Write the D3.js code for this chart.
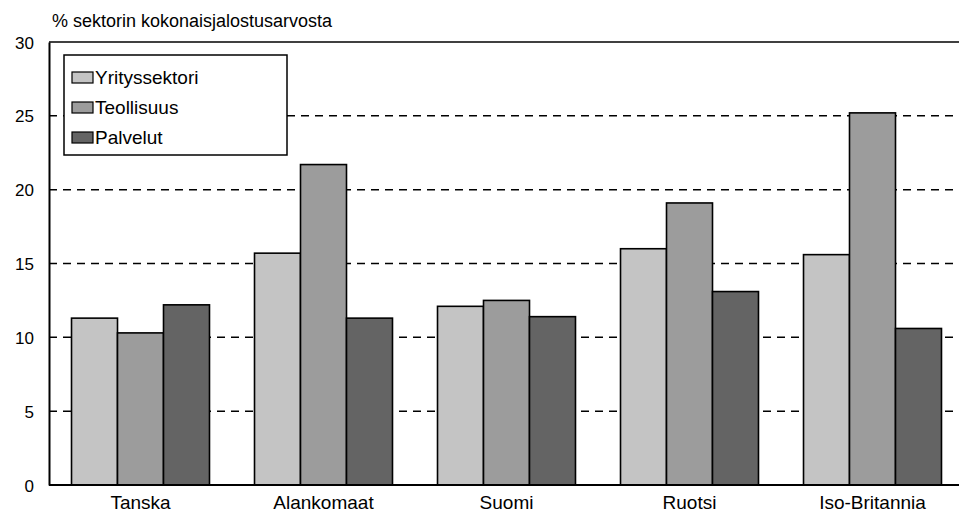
<!DOCTYPE html>
<html>
<head>
<meta charset="utf-8">
<script src="https://cdn.jsdelivr.net/npm/d3@7"></script>
<style>
  body { margin: 0; background: #fff; }
  text { font-family: "Liberation Sans", Arial, sans-serif; fill: #000; }
</style>
</head>
<body>
<div id="chart"></div>
<script>
// data
var countries = ["Tanska", "Alankomaat", "Suomi", "Ruotsi", "Iso-Britannia"];
var seriesNames = ["Yrityssektori", "Teollisuus", "Palvelut"];
var yritys   = [11.3, 15.7, 12.1, 16.0, 15.6];
var teoll    = [10.3, 21.7, 12.5, 19.1, 25.2];
var palvelut = [12.2, 11.3, 11.4, 13.1, 10.6];
var yTicks = [0, 5, 10, 15, 20, 25, 30];
var colors = ["#c4c4c4", "#9c9c9c", "#646464"];

var seriesValues = [yritys, teoll, palvelut];

var W = 959, H = 525;
var margin = {top: 42, right: -5, bottom: 40, left: 49};
var width = W - margin.left - margin.right,
    height = H - margin.top - margin.bottom;

var svg = d3.select("#chart").append("svg")
    .attr("width", W)
    .attr("height", H);

var g = svg.append("g")
    .attr("transform", "translate(" + margin.left + "," + margin.top + ")");

var x0 = d3.scaleBand().domain(countries).range([0, width]).paddingInner(0.246).paddingOuter(0.123);
var x1 = d3.scaleBand().domain(seriesNames).range([0, x0.bandwidth()]);
var y = d3.scaleLinear().domain([0, 30]).range([height, 0]);

// dashed gridlines
g.append("g")
  .selectAll("line")
  .data(yTicks.filter(function(d) { return d > 0 && d < 30; }))
  .enter().append("line")
    .attr("x1", 0)
    .attr("x2", W)
    .attr("y1", function(d) { return y(d); })
    .attr("y2", function(d) { return y(d); })
    .attr("stroke", "#000")
    .attr("stroke-width", 1.5)
    .attr("stroke-dasharray", "8,6");

// top border
g.append("line")
  .attr("x1", 0).attr("x2", W)
  .attr("y1", y(30)).attr("y2", y(30))
  .attr("stroke", "#000").attr("stroke-width", 1.5);

// bars
var rows = countries.map(function(c, i) {
  return seriesNames.map(function(s, j) {
    return {country: c, series: s, value: seriesValues[j][i], idx: j};
  });
});

var groups = g.append("g").selectAll("g")
  .data(rows)
  .enter().append("g")
    .attr("transform", function(d) { return "translate(" + x0(d[0].country) + ",0)"; });

groups.selectAll("rect")
  .data(function(d) { return d; })
  .enter().append("rect")
    .attr("x", function(d) { return x1(d.series); })
    .attr("width", x1.bandwidth())
    .attr("y", function(d) { return y(d.value); })
    .attr("height", function(d) { return height - y(d.value); })
    .attr("fill", function(d) { return colors[d.idx]; })
    .attr("stroke", "#000")
    .attr("stroke-width", 1.6);

// y axis
var yAxis = g.append("g")
  .call(d3.axisLeft(y).tickValues(yTicks).tickSize(0).tickPadding(15));
yAxis.select(".domain").attr("stroke", "#000").attr("stroke-width", 2);
yAxis.selectAll("text")
  .attr("dy", "0.36em")
  .style("font-size", "17px")
  .style("font-family", "'Liberation Sans', Arial, sans-serif");

// x axis
var xAxis = g.append("g")
  .attr("transform", "translate(0," + height + ")")
  .call(d3.axisBottom(x0).tickSize(0).tickPadding(11));
xAxis.select(".domain").remove();
g.append("line")
  .attr("x1", 0).attr("x2", W)
  .attr("y1", height).attr("y2", height)
  .attr("stroke", "#000").attr("stroke-width", 2);
xAxis.selectAll("text")
  .style("font-size", "19px")
  .style("font-family", "'Liberation Sans', Arial, sans-serif");

// axis title
svg.append("text")
  .attr("x", 52)
  .attr("y", 27)
  .style("font-size", "18px")
  .text("% sektorin kokonaisjalostusarvosta");

// legend
var legend = svg.append("g").attr("transform", "translate(64,55)");
legend.append("rect")
  .attr("width", 223).attr("height", 100)
  .attr("fill", "#fff").attr("stroke", "#000").attr("stroke-width", 1.5);

var items = legend.selectAll("g.item")
  .data(seriesNames)
  .enter().append("g")
    .attr("class", "item")
    .attr("transform", function(d, i) { return "translate(8," + (17 + i * 30) + ")"; });

items.append("rect")
  .attr("width", 21).attr("height", 11)
  .attr("fill", function(d, i) { return colors[i]; })
  .attr("stroke", "#000").attr("stroke-width", 1.2);

items.append("text")
  .attr("x", 23)
  .attr("y", 12)
  .style("font-size", "19px")
  .text(function(d) { return d; });
</script>
</body>
</html>
